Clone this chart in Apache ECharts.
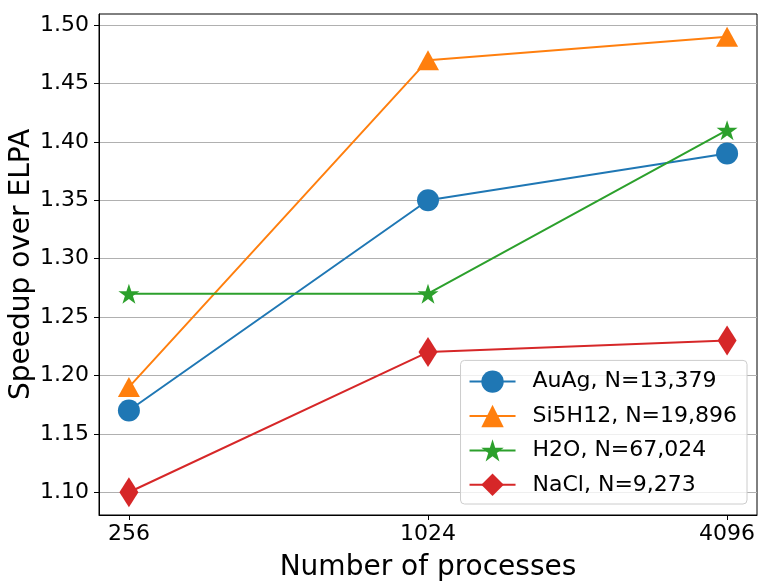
<!DOCTYPE html>
<html>
<head>
<meta charset="utf-8">
<script src="https://cdn.jsdelivr.net/npm/echarts@6/dist/echarts.min.js"></script>
<style>
  html, body { margin: 0; padding: 0; background: #fff; }
  #chart { width: 778px; height: 583px; }
</style>
</head>
<body>
<div id="chart"></div>
<script>
var procLabels = ['256', '1024', '4096'];
var yTicks = [1.10, 1.15, 1.20, 1.25, 1.30, 1.35, 1.40, 1.45, 1.50];
var seriesNames = ['AuAg, N=13,379', 'Si5H12, N=19,896', 'H2O, N=67,024', 'NaCl, N=9,273'];
var auag = [1.17, 1.35, 1.39];
var si5h12 = [1.19, 1.47, 1.49];
var h2o = [1.27, 1.27, 1.41];
var nacl = [1.10, 1.22, 1.23];

var colors = ['#1f77b4', '#ff7f0e', '#2ca02c', '#d62728'];
var starPath = 'path://M100,0 L122.45,69.1 L195.1,69.1 L136.3,111.8 L158.8,180.9 L100,138.2 L41.2,180.9 L63.7,111.8 L4.9,69.1 L77.55,69.1 Z';
var symbols = ['circle', 'triangle', starPath, 'diamond'];
var symbolSizes = [22, [22, 20], [21, 20], [19, 30]];

function toPoints(vals) {
    return vals.map(function(v, i) { return [i, v]; });
}

var chart = echarts.init(document.getElementById('chart'));
var font = 'DejaVu Sans';

var allData = [auag, si5h12, h2o, nacl];
var series = allData.map(function(vals, k) {
    return {
        name: seriesNames[k],
        type: 'line',
        data: toPoints(vals),
        symbol: symbols[k],
        symbolSize: symbolSizes[k],
        showAllSymbol: true,
        lineStyle: { color: colors[k], width: 2 },
        itemStyle: { color: colors[k], opacity: 1 },
        z: 3 + k,
        animation: false
    };
});

var option = {
    animation: false,
    color: colors,
    grid: {
        left: 99, right: 21, top: 14, bottom: 68,
        outerBoundsMode: 'none',
        containLabel: false,
        show: true, borderColor: '#000', borderWidth: 1, backgroundColor: 'transparent'
    },
    legend: {
        orient: 'vertical',
        right: 31,
        bottom: 79,
        padding: [10, 10, 8, 8],
        itemWidth: 46,
        itemHeight: 28,
        itemGap: 12,
        backgroundColor: 'rgba(255,255,255,0.8)',
        borderColor: '#cccccc',
        borderWidth: 1,
        borderRadius: 4,
        textStyle: { fontFamily: font, fontSize: 22, color: '#000', padding: [0, 0, 0, 12] },
        data: seriesNames
    },
    xAxis: {
        type: 'value',
        min: -0.1,
        max: 2.1,
        name: 'Number of processes',
        nameLocation: 'middle',
        nameGap: 39,
        nameMoveOverlap: false,
        nameTextStyle: { fontFamily: font, fontSize: 28, color: '#000' },
        axisLine: { show: true, onZero: false, lineStyle: { color: '#000', width: 1 } },
        axisTick: { show: true, inside: false, length: 5, lineStyle: { color: '#000' }, customValues: [0, 1, 2] },
        axisLabel: {
            fontFamily: font, fontSize: 22, color: '#000', margin: 8,
            customValues: [0, 1, 2],
            formatter: function(v) { return procLabels[Math.round(v)]; }
        },
        splitLine: { show: false }
    },
    yAxis: {
        type: 'value',
        min: 1.0805,
        max: 1.5095,
        name: 'Speedup over ELPA',
        nameLocation: 'middle',
        nameGap: 63,
        nameMoveOverlap: false,
        nameTextStyle: { fontFamily: font, fontSize: 28, color: '#000' },
        axisLine: { show: true, onZero: false, lineStyle: { color: '#000', width: 1 } },
        axisTick: { show: true, inside: false, length: 5, lineStyle: { color: '#000' }, customValues: yTicks },
        axisLabel: {
            fontFamily: font, fontSize: 22, color: '#000', margin: 10,
            customValues: yTicks,
            formatter: function(v) { return v.toFixed(2); }
        },
        splitLine: { show: true, lineStyle: { color: '#b0b0b0', width: 1 } }
    },
    series: series
};

chart.setOption(option);
</script>
</body>
</html>
